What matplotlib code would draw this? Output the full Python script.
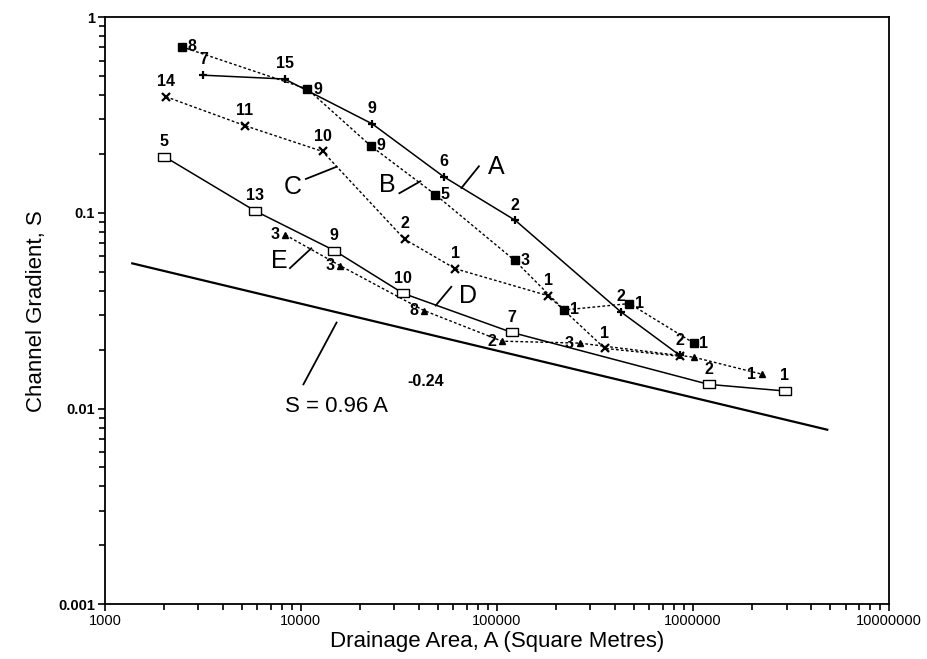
import numpy as np
import matplotlib
matplotlib.use('Agg')
import matplotlib.pyplot as plt
from matplotlib.ticker import FixedLocator, FixedFormatter, LogLocator, NullFormatter

plt.rcParams['font.family'] = ['Liberation Sans', 'DejaVu Sans']

# 数据：汇水面积 (m^2) 与河道坡度
area_a = [3180, 8260, 23100, 53500, 124000, 427000, 857000]
slope_a = [0.505, 0.483, 0.285, 0.153, 0.0916, 0.0313, 0.0187]
labels_a = ['7', '15', '9', '6', '2', '2', '2']

area_b = [2470, 10800, 22700, 48500, 123000, 220000, 474000, 1010000]
slope_b = [0.705, 0.429, 0.220, 0.124, 0.0572, 0.0319, 0.0344, 0.0216]
labels_b = ['8', '9', '9', '5', '3', '1', '1', '1']

area_c = [2050, 5180, 12900, 33800, 61400, 183000, 355000, 857000]
slope_c = [0.392, 0.279, 0.206, 0.0733, 0.0518, 0.0377, 0.0203, 0.0185]
labels_c = ['14', '11', '10', '2', '1', '1', '1', '']

area_d = [2010, 5810, 14800, 33200, 119000, 1200000, 2940000]
slope_d = [0.194, 0.1026, 0.0642, 0.0388, 0.0245, 0.0133, 0.0123]
labels_d = ['5', '13', '9', '10', '7', '2', '1']

area_e = [8340, 15800, 42400, 106000, 264000, 1010000, 2240000]
slope_e = [0.0771, 0.0538, 0.0317, 0.0221, 0.0216, 0.0183, 0.0150]
labels_e = ['3', '3', '8', '2', '3', '', '1']

# 回归线端点
fit_area = [1380, 4840000]
fit_slope = [0.0552, 0.0078]

fig = plt.figure(figsize=(9.28, 6.59), dpi=100)
ax = fig.add_axes([0.113, 0.083, 0.845, 0.891])
ax.set_xscale('log')
ax.set_yscale('log')
ax.set_xlim(1000, 1e7)
ax.set_ylim(0.001, 1)

dot = (0, (2, 1.6))
rect = [(-1, -0.6), (1, -0.6), (1, 0.6), (-1, 0.6), (-1, -0.6)]

ax.plot(area_a, slope_a, color='black', lw=1.1, marker='+', ms=6, mew=1.6)
ax.plot(area_b, slope_b, color='black', lw=1.0, ls=dot, marker='s', ms=6)
ax.plot(area_c, slope_c, color='black', lw=1.0, ls=dot, marker='x', ms=5.5, mew=1.6)
ax.plot(area_d, slope_d, color='black', lw=1.1, marker=rect, ms=9,
        mfc='white', mec='black', mew=1.0)
ax.plot(area_e, slope_e, color='black', lw=1.0, ls=dot, marker='^', ms=5)
ax.plot(fit_area, fit_slope, color='black', lw=1.6)

lab_font = dict(fontsize=11.5, fontweight='bold')
# 标签：+、x、空心方块在上方，实心方块在右侧，三角形在左侧
for xs, ys, ls in [(area_a, slope_a, labels_a), (area_c, slope_c, labels_c),
                   (area_d, slope_d, labels_d)]:
    for x, y, t in zip(xs, ys, ls):
        ax.annotate(t, (x, y), xytext=(0, 11), textcoords='offset points',
                    ha='center', va='center', **lab_font)
for x, y, t in zip(area_b, slope_b, labels_b):
    ax.annotate(t, (x, y), xytext=(4, 0), textcoords='offset points',
                ha='left', va='center', **lab_font)
for x, y, t in zip(area_e, slope_e, labels_e):
    ax.annotate(t, (x, y), xytext=(-4, 0), textcoords='offset points',
                ha='right', va='center', **lab_font)

# 系列名称及引线
names = [('A', (65900, 0.134), (80900, 0.173), (98900, 0.171)),
         ('B', (31800, 0.126), (40700, 0.145), (27600, 0.139)),
         ('C', (10600, 0.149), (15200, 0.172), (9120, 0.135)),
         ('E', (8790, 0.0522), (11300, 0.0659), (7730, 0.0568)),
         ('D', (48700, 0.0336), (58500, 0.0419), (71300, 0.0376))]
for name, p0, p1, pt in names:
    ax.plot([p0[0], p1[0]], [p0[1], p1[1]], color='black', lw=1.3)
    ax.text(pt[0], pt[1], name, fontsize=18, ha='center', va='center')

ax.plot([10300, 15200], [0.0133, 0.0275], color='black', lw=1.3)
ax.text(8300, 0.0103, 'S = 0.96 A', fontsize=16, ha='left', va='center')
ax.text(35100, 0.0138, '-0.24', fontsize=11.5, fontweight='bold',
        ha='left', va='center')

ax.xaxis.set_major_locator(FixedLocator([1e3, 1e4, 1e5, 1e6, 1e7]))
ax.xaxis.set_major_formatter(FixedFormatter(['1000', '10000', '100000',
                                             '1000000', '10000000']))
ax.xaxis.set_minor_locator(LogLocator(base=10, subs=np.arange(2, 10)))
ax.xaxis.set_minor_formatter(NullFormatter())
ax.yaxis.set_major_locator(FixedLocator([0.001, 0.01, 0.1, 1]))
ax.yaxis.set_major_formatter(FixedFormatter(['0.001', '0.01', '0.1', '1']))
ax.yaxis.set_minor_locator(LogLocator(base=10, subs=np.arange(2, 10)))
ax.yaxis.set_minor_formatter(NullFormatter())

ax.tick_params(which='major', direction='out', length=5, width=1.2,
               labelsize=10.5, pad=2)
ax.tick_params(which='minor', direction='out', length=4, width=1.2)
for lbl in ax.get_yticklabels():
    lbl.set_fontweight('bold')
for s in ax.spines.values():
    s.set_linewidth(1.3)

ax.set_xlabel('Drainage Area, A (Square Metres)', fontsize=16, labelpad=2)
ax.set_ylabel('Channel Gradient, S', fontsize=16, labelpad=8)

fig.savefig('out.png', dpi=100)
